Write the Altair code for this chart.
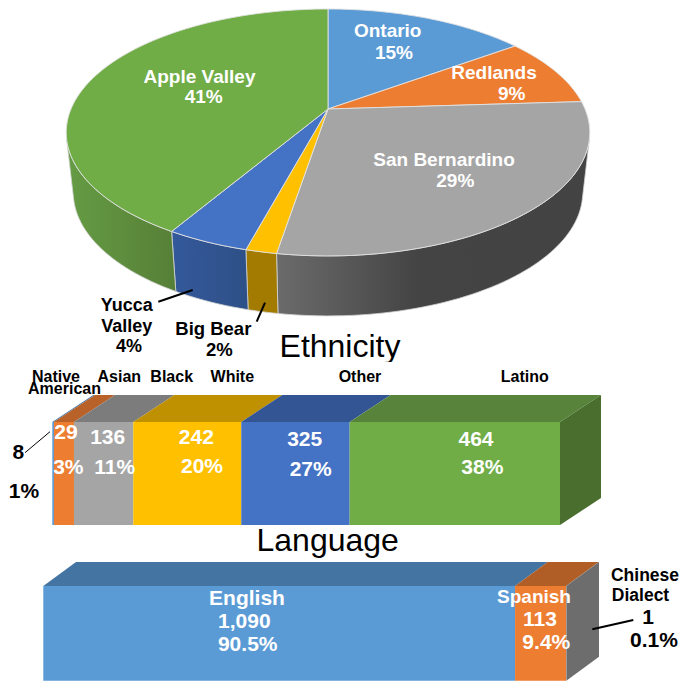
import math
import altair as alt

# ---- values ----
pie_names = ["Ontario", "Redlands", "San Bernardino", "Big Bear", "Yucca Valley", "Apple Valley"]
pie_shares = [15.0, 9.0, 28.6, 1.6, 4.3, 41.5]
pie_colors = ["#5b9bd5", "#ed7d31", "#a5a5a5", "#ffc000", "#4472c4", "#70ad47"]

eth_widths = [0.33, 3.94, 11.68, 21.27, 21.35, 41.43]
eth_front = ["#5b9bd5", "#ed7d31", "#a5a5a5", "#ffc000", "#4472c4", "#70ad47"]
eth_top = ["#4474a1", "#b8622a", "#7c7c7c", "#bf9000", "#335593", "#57843a"]
eth_side = "#4a6e2d"

lang_widths = [90.2, 9.75, 0.05]
lang_front = ["#5b9bd5", "#ed7d31", "#a5a5a5"]
lang_top = ["#4474a1", "#b05e26", "#7c7c7c"]
lang_side = "#6d6d6d"

PAGE = 8
P1_TOP, P2_TOP, P3_TOP, P_END = 8, 362, 558, 682
W = 672
FONT = "Liberation Sans"

# (text, centre x, baseline y, size, colour), in page pixels
pie_labels = [
    ("Ontario", 387.7, 37.3, 19, "white"), ("15%", 394, 58.7, 19, "white"),
    ("Redlands", 494, 79.3, 19, "white"), ("9%", 511.7, 100, 19, "white"),
    ("San Bernardino", 444, 166, 19, "white"), ("29%", 455.3, 186.7, 19, "white"),
    ("Apple Valley", 199.5, 83.3, 19, "white"), ("41%", 203.7, 103, 19, "white"),
    ("Yucca", 126.7, 310.7, 18, "black"), ("Valley", 126.7, 331.7, 18, "black"), ("4%", 129, 351.5, 18, "black"),
    ("Big Bear", 213.3, 335.3, 18.5, "black"), ("2%", 219.3, 356, 18.5, "black"),
]
eth_labels = [
    ("Native", 56, 381.7, 16, "black"), ("American", 64.5, 394, 16, "black"),
    ("Asian", 119.3, 381.7, 16, "black"), ("Black", 171.7, 381.7, 16, "black"),
    ("White", 232.3, 381.7, 16, "black"), ("Other", 360, 381.7, 16, "black"),
    ("Latino", 524.8, 381.7, 16, "black"),
    ("29", 66, 438.7, 21, "white"), ("136", 107.7, 443.7, 21, "white"), ("242", 196.3, 443.7, 21, "white"),
    ("325", 304.7, 446, 21, "white"), ("464", 476, 446, 21, "white"),
    ("3%", 68.3, 474.3, 21, "white"), ("11%", 114.7, 474.3, 21, "white"), ("20%", 202, 473.3, 21, "white"),
    ("27%", 310.7, 476, 21, "white"), ("38%", 482.3, 474.3, 21, "white"),
    ("8", 18.3, 459.3, 21, "black"), ("1%", 24, 498.3, 21, "black"),
]
lang_labels = [
    ("English", 247, 605, 21, "white"), ("1,090", 244.3, 628, 21, "white"), ("90.5%", 247.7, 651.3, 21, "white"),
    ("Spanish", 534, 603, 19, "white"), ("113", 540, 625.7, 21, "white"), ("9.4%", 546.3, 649.3, 21, "white"),
    ("Chinese", 645, 580.7, 17.5, "black"), ("Dialect", 640.5, 600.7, 17.5, "black"),
    ("1", 648, 624, 21, "black"), ("0.1%", 654, 646.7, 21, "black"),
]

proj = dict(type="identity", scale=1, translate=[0, 0])

# ---- pie: circle seen in perspective, slices computed from the shares ----
CX, CY, R, T, K = 328.0, 109.0, 257.0, 119.0, 0.19
WALL_X, WALL_Y = 0.973, 60.0
WALL_FROM, WALL_TO = 104.0, 256.0


def top_pt(deg):
    u, v = math.sin(math.radians(deg)), math.cos(math.radians(deg))
    w = 1 + K * v
    return [CX + R * u / w - PAGE, CY - T * v / w - PAGE]


def low_pt(deg):
    x, y = top_pt(deg)
    return [CX - PAGE + (x - CX + PAGE) * WALL_X, y + WALL_Y]


def angles(a, b):
    n = max(2, int((b - a) / 1.5) + 1)
    return [a + (b - a) * i / (n - 1) for i in range(n)]


def feature(coords, colour, kind="Polygon"):
    geom = {"type": kind, "coordinates": [coords] if kind == "Polygon" else coords}
    return {"type": "Feature", "properties": {}, "geometry": geom, "c": colour}


edges = [0.0]
for s in pie_shares:
    edges.append(edges[-1] + s * 3.6)

slices = []
for i, colour in enumerate(pie_colors):
    arc = [top_pt(t) for t in angles(edges[i], edges[i + 1])]
    apex = [CX - PAGE, CY - PAGE]
    slices.append(feature([apex] + arc + [apex], colour))


def wall(i):
    a, b = max(edges[i], WALL_FROM), min(edges[i + 1], WALL_TO)
    ts = angles(a, b)
    pts = [top_pt(t) for t in ts] + [low_pt(t) for t in reversed(ts)]
    return feature(pts + [pts[0]], "x")


def grad(stops):
    return alt.LinearGradient(
        gradient="linear", x1=0, x2=1, y1=0, y2=0,
        stops=[alt.GradientStop(offset=o, color=c) for o, c in stops],
    )


wall_fills = {
    2: grad([(0, "#6b6b6b"), (0.2, "#5a5a5a"), (0.45, "#444444"), (1, "#434343")]),
    3: "#a27b00",
    4: grad([(0, "#34599b"), (1, "#2e5087")]),
    5: grad([(0, "#659c44"), (1, "#567f37")]),
}
wall_layers = [
    alt.Chart(alt.Data(values=[wall(i)])).mark_geoshape(fill=f, stroke="#d4d4d4", strokeWidth=0.8).project(**proj)
    for i, f in wall_fills.items()
]
top_layer = (
    alt.Chart(alt.Data(values=slices))
    .mark_geoshape(stroke="#e2e2e2", strokeWidth=0.9)
    .encode(color=alt.Color("c:N", scale=None))
    .project(**proj)
)
leaders_pie = [
    [[158.3 - PAGE, 301.7 - PAGE], [192.7 - PAGE, 290 - PAGE]],
    [[256.7 - PAGE, 321.7 - PAGE], [265 - PAGE, 302.7 - PAGE]],
]
leader_layer = (
    alt.Chart(alt.Data(values=[feature(l, "black", "LineString") for l in leaders_pie]))
    .mark_geoshape(filled=False, stroke="black", strokeWidth=2)
    .project(**proj)
)
pie_text = (
    alt.Chart(alt.Data(values=[
        {"t": t, "lon": x - PAGE, "lat": y - PAGE, "s": s, "c": c} for t, x, y, s, c in pie_labels
    ]))
    .mark_text(font=FONT, fontWeight="bold", align="center", baseline="alphabetic")
    .encode(longitude="lon:Q", latitude="lat:Q", text="t:N",
            size=alt.Size("s:Q", scale=None), color=alt.Color("c:N", scale=None))
    .project(**proj)
)
title1 = (
    alt.Chart(alt.Data(values=[{"t": "Ethnicity", "lon": 340 - PAGE, "lat": 356.5 - PAGE}]))
    .mark_text(font=FONT, fontSize=32, align="center", baseline="alphabetic", color="black")
    .encode(longitude="lon:Q", latitude="lat:Q", text="t:N")
    .project(**proj)
)
panel1 = alt.layer(*wall_layers, top_layer, leader_layer, pie_text, title1).properties(
    width=W, height=P2_TOP - P1_TOP
)


# ---- 3D stacked bars ----
def bar_panel(widths, front, top, side_colour, left, right, y_top, y_bot, dx_px, dy_px,
              panel_top, panel_bot, labels, rules, title):
    k = (right - left) / sum(widths)
    hpx = y_bot - y_top
    to_x = lambda px: (px - left) / k
    to_y = lambda py: (y_bot - py) / hpx
    dx, dy = dx_px / k, dy_px / hpx
    xs = alt.Scale(domain=[to_x(PAGE), to_x(PAGE + W)], nice=False, zero=False)
    ys = alt.Scale(domain=[to_y(panel_bot), to_y(panel_top)], nice=False, zero=False)
    X = lambda f: alt.X(f, type="quantitative", scale=xs, axis=None)
    Y = lambda f: alt.Y(f, type="quantitative", scale=ys, axis=None)

    fr, tp = [], []
    a = 0.0
    for i, w in enumerate(widths):
        b = a + w
        fr.append({"a": a, "b": b, "y0": 0, "y1": 1, "c": front[i]})
        tp.append({"seg": i, "y": 1, "xa": a, "xb": b, "c": top[i]})
        tp.append({"seg": i, "y": 1 + dy, "xa": a + dx, "xb": b + dx, "c": top[i]})
        a = b
    sd = [{"x": a, "y0": 0, "y1": 1, "c": side_colour}, {"x": a + dx, "y0": dy, "y1": 1 + dy, "c": side_colour}]

    top_faces = (
        alt.Chart(alt.Data(values=tp))
        .mark_area(orient="horizontal", interpolate="linear")
        .encode(y=Y("y"), x=X("xa"), x2="xb:Q", detail="seg:N", color=alt.Color("c:N", scale=None))
    )
    side_face = (
        alt.Chart(alt.Data(values=sd))
        .mark_area(orient="vertical", interpolate="linear")
        .encode(x=X("x"), y=Y("y0"), y2="y1:Q", color=alt.Color("c:N", scale=None))
    )
    front_faces = (
        alt.Chart(alt.Data(values=fr))
        .mark_rect()
        .encode(x=X("a"), x2="b:Q", y=Y("y0"), y2="y1:Q", color=alt.Color("c:N", scale=None))
    )
    lines = (
        alt.Chart(alt.Data(values=[
            {"xa": to_x(r[0]), "xb": to_x(r[2]), "ya": to_y(r[1]), "yb": to_y(r[3]), "w": r[4]} for r in rules
        ]))
        .mark_rule(color="black")
        .encode(x=X("xa"), x2="xb:Q", y=Y("ya"), y2="yb:Q", strokeWidth=alt.StrokeWidth("w:Q", scale=None))
    )
    text = (
        alt.Chart(alt.Data(values=[
            {"t": t, "x": to_x(x), "y": to_y(y), "s": s, "c": c} for t, x, y, s, c in labels
        ]))
        .mark_text(font=FONT, fontWeight="bold", align="center", baseline="alphabetic")
        .encode(x=X("x"), y=Y("y"), text="t:N", size=alt.Size("s:Q", scale=None), color=alt.Color("c:N", scale=None))
    )
    layers = [top_faces, side_face, front_faces, lines, text]
    if title:
        layers.append(
            alt.Chart(alt.Data(values=[{"t": title[0], "x": to_x(title[1]), "y": to_y(title[2])}]))
            .mark_text(font=FONT, fontSize=32, align="center", baseline="alphabetic", color="black")
            .encode(x=X("x"), y=Y("y"), text="t:N")
        )
    return alt.layer(*layers).properties(width=W, height=panel_bot - panel_top)


panel2 = bar_panel(
    eth_widths, eth_front, eth_top, eth_side, 52.3, 560, 422, 525, 41, 27, P2_TOP, P3_TOP,
    eth_labels, [(25, 452.7, 50, 431.7, 1)], ("Language", 327.7, 550.7),
)
panel3 = bar_panel(
    lang_widths, lang_front, lang_top, lang_side, 43.3, 566.3, 586, 680.7, 32.7, 24, P3_TOP, P_END,
    lang_labels, [(592.3, 629.3, 633.3, 620, 2)], None,
)

chart = (
    alt.vconcat(panel1, panel2, panel3, spacing=0, bounds="flush")
    .properties(padding=0, background="white")
    .configure_view(stroke=None)
    .configure_concat(spacing=0)
)
chart.save("out.html", embed_options={"renderer": "svg", "actions": False})
